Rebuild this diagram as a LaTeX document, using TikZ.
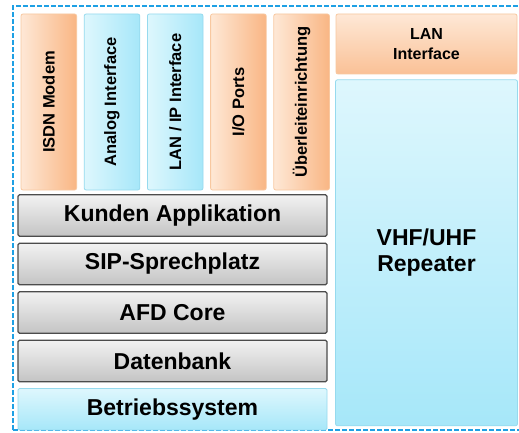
\documentclass[tikz,border=0pt]{standalone}
\usepackage{fontspec}
\setmainfont{Liberation Sans}
\usetikzlibrary{positioning}
\definecolor{orangelight}{RGB}{254,232,214}
\definecolor{orangedark}{RGB}{249,182,132}
\definecolor{orangeline}{RGB}{248,200,160}
\definecolor{cyanlight}{RGB}{222,247,253}
\definecolor{cyandark}{RGB}{166,231,249}
\definecolor{cyanline}{RGB}{150,218,238}
\definecolor{graylight}{RGB}{242,242,242}
\definecolor{graydark}{RGB}{196,196,196}
\definecolor{frameblue}{RGB}{30,160,228}
\tikzset{
  vbox/.style={draw, line width=0.8pt, rounded corners=2pt, minimum width=55.6pt,
               minimum height=176pt, inner sep=0pt,
               font=\fontsize{16.5}{19}\selectfont\bfseries},
  vorange/.style={vbox, draw=orangeline, left color=orangelight, right color=orangedark},
  vcyan/.style={vbox, draw=cyanline, left color=cyanlight, right color=cyandark},
  layer/.style={draw=black!70, line width=1.2pt, rounded corners=1.5pt,
                top color=graylight, bottom color=graydark,
                minimum width=309pt, minimum height=41.5pt, inner sep=0pt,
                font=\fontsize{23}{26}\selectfont\bfseries},
}
\begin{document}
\begin{tikzpicture}[x=1pt, y=1pt, node distance=6.8pt]
  \useasboundingbox (0,0) rectangle (519,432);
  \fill[white] (0,0) rectangle (519,432);
  \draw[frameblue, line width=1.8pt, dash pattern=on 5pt off 2pt] (13,2) rectangle (526,426);

  % interfaces on top of the stack
  \node[vorange] (isdn) at (48.8,330) {\rotatebox{90}{ISDN Modem}};
  \node[vcyan, right=of isdn] (analog) {\rotatebox{90}{Analog Interface}};
  \node[vcyan, right=of analog] (lanip) {\rotatebox{90}{LAN / IP Interface}};
  \node[vorange, right=of lanip] (ioports) {\rotatebox{90}{I/O Ports}};
  \node[vorange, right=of ioports] (ueber) {\rotatebox{90}{Überleiteinrichtung}};

  % software layers
  \node[layer] (kunden) at (172.5,216.5) {Kunden Applikation};
  \node[layer, below=5.8pt of kunden] (sip) {SIP-Sprechplatz};
  \node[layer, below=5.8pt of sip] (afd) {AFD Core};
  \node[layer, below=5.8pt of afd] (datenbank) {Datenbank};
  \node[layer, below=5.8pt of datenbank, draw=cyanline, line width=0.8pt,
        top color=cyanlight, bottom color=cyandark] (betrieb) {Betriebssystem};

  % repeater column
  \node[draw=orangeline, line width=0.8pt, rounded corners=2pt, top color=orangelight,
        bottom color=orangedark!85, minimum width=181pt, minimum height=60pt,
        align=center, font=\fontsize{16}{20}\selectfont\bfseries]
      (lan) at (426.5,388) {LAN\\Interface};
  \node[draw=cyanline, line width=0.8pt, rounded corners=2pt, top color=cyanlight,
        bottom color=cyandark, minimum width=182pt, minimum height=346pt,
        align=center, font=\fontsize{23}{26}\selectfont\bfseries,
        below=5pt of lan] (repeater) {VHF/UHF\\Repeater};
\end{tikzpicture}
\end{document}
